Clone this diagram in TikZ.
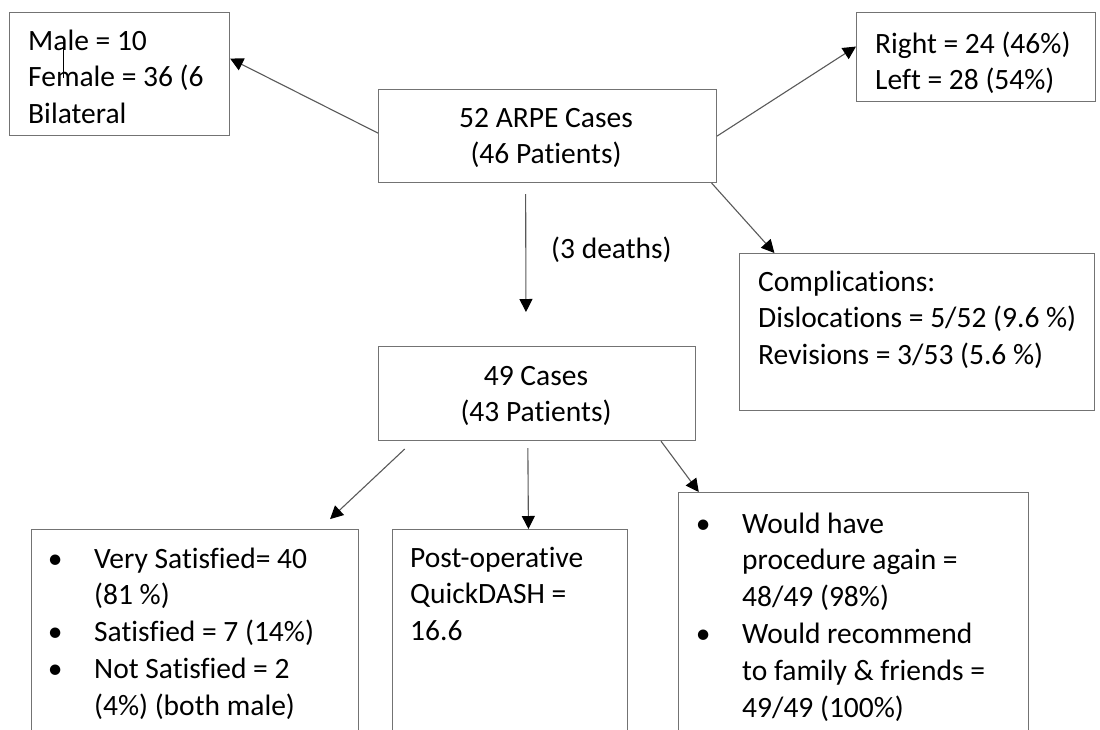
\documentclass[tikz,border=0pt]{standalone}
\usepackage{fontspec}
\setmainfont{Carlito}[Ligatures=NoCommon]
\usetikzlibrary{
  arrows.meta % Triangle arrow tips
}
\newcommand{\bul}{\leavevmode\llap{\makebox[78pt]{\textbullet}}} % bullet hanging left of the item text
\tikzset{
  box/.style={
    draw=black!55,
    line width=1.1pt,
    inner sep=0pt,
    anchor=north west
  },
  txt/.style={
    anchor=base west,
    inner sep=0pt,
    align=left,
    text width=#1,
    execute at begin node={\spaceskip=\fontdimen2\font\relax} % keep the font's own word space
  },
  txt/.default=300pt,
  arr/.style={
    -{Triangle[length=13pt,width=13pt,color=black]},
    line width=1.1pt,
    draw=black!65
  }
}

\begin{document}
\begin{tikzpicture}[x=1pt, y=-1pt, font=\fontsize{29.5}{36.8}\selectfont] % pixel grid of the flowchart, y grows downwards

  \useasboundingbox (0,0) rectangle (1100,729); % page frame
  \clip (0,0) rectangle (1100,729); % bottom boxes run past the lower edge

  % boxes
  \node[box, minimum width=220pt, minimum height=123pt] (sex) at (9,12) {}; % sex box, top left
  \node[box, minimum width=239pt, minimum height=89pt] (side) at (856,12) {}; % side box, top right
  \node[box, minimum width=338pt, minimum height=93pt] (arpe) at (378,89) {}; % all cases
  \node[box, minimum width=355pt, minimum height=157pt] (comp) at (739,253) {}; % complications
  \node[box, minimum width=317pt, minimum height=94pt] (fortynine) at (378,346) {}; % survivors
  \node[box, minimum width=327pt, minimum height=231pt] (satis) at (31,529) {}; % satisfaction
  \node[box, minimum width=235pt, minimum height=231pt] (dash) at (392,529) {}; % QuickDASH
  \node[box, minimum width=350pt, minimum height=268pt] (again) at (678,492) {}; % would do again

  % box texts
  \node[txt=195pt] (sextxt) at (28,50) {Male = 10\\Female = 36 (6\\Bilateral};
  \node[txt=215pt] (sidetxt) at (875,53) {Right = 24 (46\%)\\Left = 28 (54\%)};
  \node[txt=300pt, align=center, anchor=base] (arpetxt) at (546,127) {52 ARPE Cases\\(46 Patients)};
  \node[txt=300pt, align=center, anchor=base] (fortyninetxt) at (536,385) {49 Cases\\(43 Patients)};
  \node[txt=345pt] (comptxt) at (758,291) {Complications:\\Dislocations = 5/52 (9.6 \%)\\Revisions = 3/53 (5.6 \%)};
  \node[txt=260pt] (satistxt) at (94,568) {\bul Very Satisfied= 40\\(81 \%)\\\bul Satisfied = 7 (14\%)\\\bul Not Satisfied = 2\\(4\%) (both male)};
  \node[txt=215pt] (dashtxt) at (410,567) {Post-operative\\QuickDASH =\\16.6};
  \node[txt=280pt] (againtxt) at (742,533) {\bul Would have\\procedure again =\\48/49 (98\%)\\\bul Would recommend\\to family \& friends =\\49/49 (100\%)};
  \node[txt] (deaths) at (551,258) {(3 deaths)}; % label beside the down arrow

  % stray text cursor in the sex box
  \draw[line width=0.8pt] (60,48) -- (63.5,48) -- (63.5,78);

  % connectors
  \draw[arr] (arpe.179) -- (sex.8.5);
  \draw[arr] (arpe.east) -- (side.175.5);
  \draw[arr] (arpe.-16.9) -- (comp.151);
  \draw[arr, shorten <=11pt, shorten >=34pt] (arpe.-115.3) -- (fortynine.103.75);
  \draw[arr, shorten <=11.6pt, shorten >=14.5pt] (fortynine.-159.8) -- (satis.43.9);
  \draw[arr, shorten <=7pt] (fortynine.-101.4) -- (dash.81.4);
  \draw[arr] (fortynine.-21) -- (again.139.3);

\end{tikzpicture}
\end{document}
